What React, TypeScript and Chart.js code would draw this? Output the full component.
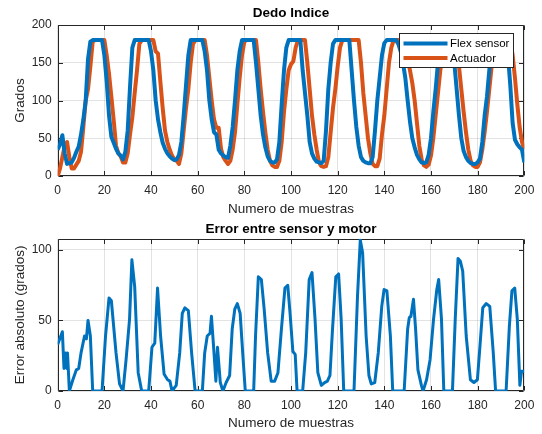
import React, { useEffect, useRef } from "react";
import { Chart, registerables } from "chart.js";

Chart.register(...registerables);

// ---------------- data ----------------
const sampleTicks = [0, 20, 40, 60, 80, 100, 120, 140, 160, 180, 200];
const topYTicks = [0, 50, 100, 150, 200];
const bottomYTicks = [0, 50, 100];
const seriesNames = ["Flex sensor", "Actuador"];

const flexX = [0, 1, 2, 3, 4, 5, 6, 7, 8, 9, 10, 11, 12, 13, 14, 15, 19, 20, 21, 22, 23, 24, 25, 26, 27, 28, 29, 30, 31, 32, 33, 39, 40, 41, 42, 43, 44, 45, 46, 47, 48, 49, 50, 51, 52, 53, 54, 55, 56, 57, 62, 63, 64, 65, 66, 67, 68, 69, 70, 71, 72, 73, 74, 75, 76, 77, 78, 79, 84, 85, 86, 87, 88, 89, 90, 91, 92, 93, 94, 95, 96, 97, 98, 99, 104, 105, 106, 107, 108, 109, 110, 111, 112, 113, 114, 115, 116, 117, 118, 119, 125, 126, 127, 128, 129, 130, 131, 132, 133, 134, 135, 136, 137, 138, 139, 140, 141, 145, 146, 147, 148, 149, 150, 151, 152, 153, 154, 155, 156, 157, 158, 159, 160, 161, 162, 163, 164, 165, 169, 170, 171, 172, 173, 174, 175, 176, 177, 178, 179, 180, 181, 182, 183, 184, 185, 186, 187, 192, 193, 194, 195, 196, 197, 198, 199, 200];
const flexY = [35, 42, 54, 30, 16, 17, 18, 24, 32, 39, 55, 75, 100, 155, 178, 180, 180, 160, 125, 80, 52, 44, 36, 30, 27, 22, 32, 60, 118, 170, 180, 180, 165, 140, 100, 75, 58, 44, 36, 30, 26, 23, 21, 22, 28, 45, 80, 120, 160, 180, 180, 165, 140, 100, 75, 58, 55, 35, 30, 27, 25, 24, 40, 65, 100, 140, 165, 180, 180, 150, 115, 80, 55, 38, 26, 20, 18, 18, 22, 45, 95, 140, 170, 180, 180, 140, 110, 80, 45, 30, 23, 19, 18, 17, 20, 60, 115, 150, 175, 180, 180, 140, 100, 65, 40, 25, 20, 18, 17, 17, 25, 60, 100, 130, 160, 176, 180, 180, 175, 165, 150, 130, 100, 72, 50, 38, 28, 22, 18, 17, 18, 28, 50, 85, 115, 150, 175, 180, 180, 150, 115, 80, 50, 33, 25, 20, 17, 16, 16, 18, 23, 45, 80, 105, 140, 170, 180, 180, 160, 120, 70, 48, 42, 38, 35, 18];

const actX = [0, 1, 2, 3, 4, 5, 6, 7, 8, 9, 10, 11, 12, 13, 14, 15, 16, 20, 21, 22, 23, 24, 25, 26, 27, 28, 29, 30, 31, 32, 33, 34, 35, 36, 41, 42, 43, 44, 45, 46, 47, 48, 49, 50, 51, 52, 53, 54, 55, 56, 57, 58, 59, 63, 64, 65, 66, 67, 68, 69, 70, 71, 72, 73, 74, 75, 76, 77, 78, 79, 80, 81, 85, 86, 87, 88, 89, 90, 91, 92, 93, 94, 95, 96, 97, 98, 99, 100, 101, 102, 103, 106, 107, 108, 109, 110, 111, 112, 113, 114, 115, 116, 117, 118, 119, 120, 121, 122, 129, 130, 131, 132, 133, 134, 135, 136, 137, 138, 139, 140, 141, 142, 143, 144, 148, 149, 150, 151, 152, 153, 154, 155, 156, 157, 158, 159, 160, 161, 162, 163, 164, 165, 166, 170, 171, 172, 173, 174, 175, 176, 177, 178, 179, 180, 181, 182, 183, 184, 185, 186, 187, 188, 194, 195, 196, 197, 198, 199, 200];
const actY = [0, 10, 25, 40, 45, 25, 10, 10, 15, 20, 32, 65, 100, 115, 145, 178, 180, 180, 160, 135, 105, 74, 40, 30, 26, 18, 18, 30, 55, 78, 110, 140, 175, 180, 180, 165, 162, 125, 90, 60, 45, 35, 27, 22, 20, 16, 30, 60, 90, 115, 150, 175, 180, 180, 160, 130, 100, 75, 64, 64, 36, 25, 20, 16, 20, 35, 58, 95, 130, 160, 178, 180, 180, 150, 115, 85, 58, 35, 20, 14, 12, 12, 20, 45, 85, 115, 140, 148, 152, 170, 180, 180, 150, 115, 80, 55, 35, 18, 13, 12, 13, 25, 58, 90, 115, 145, 170, 180, 180, 150, 110, 80, 50, 30, 16, 13, 13, 23, 55, 80, 115, 150, 170, 180, 180, 170, 155, 140, 123, 100, 70, 40, 22, 14, 12, 15, 27, 50, 80, 110, 140, 165, 180, 180, 165, 145, 115, 85, 58, 35, 20, 14, 12, 12, 18, 35, 58, 85, 115, 145, 170, 180, 180, 160, 130, 95, 65, 45, 35];

const errX = [0, 2, 2.7, 3.4, 3.9, 4.2, 5, 6.5, 8, 9, 10, 11.5, 12.3, 13, 14, 15, 19, 20.5, 22, 23, 25, 26.5, 28, 29.3, 30.8, 31.8, 33, 34.5, 36, 39, 40.4, 41.6, 42.8, 44.1, 45.6, 47.1, 48.1, 49, 50.8, 52.3, 53.4, 54.5, 56, 57.4, 58.9, 62, 63, 64.1, 65.3, 65.9, 67, 67.8, 68.5, 69.7, 70.8, 72.2, 73.7, 74.8, 75.9, 77, 78.2, 79.3, 80.4, 84, 84.8, 86, 87.3, 88.5, 90, 91.5, 93, 94.4, 95.9, 97.4, 98.6, 99.6, 100.8, 101.8, 102.6, 105, 106.3, 107.8, 109, 110.3, 111.5, 113, 114.4, 115.6, 116.7, 117.8, 119.2, 120.4, 121.5, 122.6, 127, 128.5, 129.7, 130.7, 132.2, 133.4, 134.4, 135.9, 137.4, 138.9, 139.9, 141.1, 142.6, 143.6, 148.5, 150, 150.7, 151.4, 152.5, 153.4, 154.4, 155.9, 156.6, 158.1, 159.6, 161.1, 162.5, 163.3, 164.5, 165.5, 169.2, 170.4, 171.6, 172.6, 173.6, 175.1, 176.9, 178.4, 179.9, 181, 182.2, 183.7, 185.2, 186.7, 187.7, 192.2, 193.6, 194.7, 195.9, 197, 198.1, 198.8, 200];
const errY = [33, 42, 16, 27, 16, 27, 0, 8, 15, 16, 27, 39, 37, 50, 39, 0, 0, 39, 66, 64, 27, 5, 0, 22, 51, 93, 74, 13, 0, 0, 31, 34, 73, 39, 12, 8, 7, 0, 4, 27, 55, 59, 57, 27, 0, 0, 27, 39, 41, 53, 27, 7, 31, 6, 0, 6, 11, 44, 58, 62, 55, 27, 0, 0, 39, 81, 79, 58, 27, 7, 7, 13, 44, 73, 75, 55, 28, 26, 0, 0, 27, 79, 84, 51, 13, 4, 6, 7, 11, 44, 81, 83, 51, 0, 0, 67, 107, 98, 39, 11, 5, 6, 27, 60, 72, 71, 39, 0, 0, 44, 52, 53, 65, 44, 15, 4, 0, 8, 22, 51, 72, 79, 51, 0, 0, 51, 94, 92, 85, 39, 8, 6, 8, 32, 59, 62, 60, 27, 0, 0, 46, 71, 73, 51, 4, 14, 14];

// ---------------- styles ----------------
const FONT = "'Liberation Sans', Arial, Helvetica, sans-serif";
const BLUE = "#0072BD";
const ORANGE = "#D95319";
const AXIS = "#262626";
const GRID = "rgba(38,38,38,0.13)";

const pts = (xs: number[], ys: number[]) => xs.map((x, i) => ({ x, y: ys[i] }));

function boxPlugin(xTicks: number[], yTicks: number[], title: string, titleY: number) {
  return {
    id: "matlabBox",
    beforeDatasetsDraw(chart: any) {
      const { ctx, chartArea: a, scales } = chart;
      const l = Math.round(a.left) + 0.5;
      const r = Math.round(a.right) - 0.5;
      const t = Math.round(a.top) + 0.5;
      const b = Math.round(a.bottom) - 0.5;
      ctx.save();
      ctx.strokeStyle = AXIS;
      ctx.lineWidth = 1;
      ctx.beginPath();
      ctx.rect(l, t, r - l, b - t);
      const tl = 4.5;
      for (const v of xTicks) {
        const px = Math.round(scales.x.getPixelForValue(v)) + 0.5;
        ctx.moveTo(px, b);
        ctx.lineTo(px, b - tl);
        ctx.moveTo(px, t);
        ctx.lineTo(px, t + tl);
      }
      for (const v of yTicks) {
        const py = Math.round(scales.y.getPixelForValue(v)) + 0.5;
        ctx.moveTo(l, py);
        ctx.lineTo(l + tl, py);
        ctx.moveTo(r, py);
        ctx.lineTo(r - tl, py);
      }
      ctx.stroke();
      // title centred over the plot area
      ctx.fillStyle = "#000";
      ctx.font = `bold 13.5px ${FONT}`;
      ctx.textAlign = "center";
      ctx.textBaseline = "middle";
      ctx.fillText(title, (a.left + a.right) / 2, titleY);
      ctx.restore();
    },
  };
}

const legendPlugin = {
  id: "matlabLegend",
  afterDatasetsDraw(chart: any) {
    const { ctx, chartArea: a } = chart;
    const w = 114;
    const h = 34;
    const x = Math.round(a.right - 11) - w + 0.5;
    const y = Math.round(a.top + 8) + 0.5;
    ctx.save();
    ctx.fillStyle = "#ffffff";
    ctx.fillRect(x, y, w, h);
    ctx.strokeStyle = AXIS;
    ctx.lineWidth = 1;
    ctx.strokeRect(x, y, w, h);
    const colors = [BLUE, ORANGE];
    seriesNames.forEach((name, i) => {
      const cy = y + 10 + i * 14.5;
      ctx.strokeStyle = colors[i];
      ctx.lineWidth = 4;
      ctx.beginPath();
      ctx.moveTo(x + 4, cy);
      ctx.lineTo(x + 48, cy);
      ctx.stroke();
      ctx.fillStyle = "#000";
      ctx.font = `11.5px ${FONT}`;
      ctx.textBaseline = "middle";
      ctx.textAlign = "left";
      ctx.fillText(name, x + 50.5, cy + 0.5);
    });
    ctx.restore();
  },
};

function baseOptions(opts: {
  topPad: number;
  yMax: number;
  yTicks: number[];
  yTitle: string;
  xAxisHeight: number;
  xTitlePadBottom: number;
}) {
  return {
    responsive: false,
    animation: false as const,
    layout: { padding: { left: 0, right: 17.7, top: opts.topPad, bottom: 0 } },
    plugins: {
      legend: { display: false },
      tooltip: { enabled: false },
      title: { display: false },
    },
    elements: { point: { radius: 0 }, line: { tension: 0, borderJoinStyle: "round" as const } },
    scales: {
      x: {
        type: "linear" as const,
        min: 0,
        max: 200,
        afterBuildTicks: (s: any) => {
          s.ticks = sampleTicks.map((v) => ({ value: v }));
        },
        afterFit: (s: any) => {
          s.height = opts.xAxisHeight;
        },
        grid: { color: GRID, drawTicks: false },
        border: { display: false },
        ticks: { color: AXIS, font: { family: FONT, size: 12 }, padding: 7, maxRotation: 0, autoSkip: false },
        title: {
          display: true,
          text: "Numero de muestras",
          color: AXIS,
          font: { family: FONT, size: 13.5 },
          padding: { top: 0, bottom: opts.xTitlePadBottom },
        },
      },
      y: {
        type: "linear" as const,
        min: 0,
        max: opts.yMax,
        afterBuildTicks: (s: any) => {
          s.ticks = opts.yTicks.map((v) => ({ value: v }));
        },
        afterFit: (s: any) => {
          s.width = 57.7;
        },
        grid: { color: GRID, drawTicks: false },
        border: { display: false },
        ticks: { color: AXIS, font: { family: FONT, size: 12 }, padding: 6 },
        title: {
          display: true,
          text: opts.yTitle,
          color: AXIS,
          font: { family: FONT, size: 13.5 },
          padding: { top: 11.9, bottom: 0 },
        },
      },
    },
  };
}

export default function App() {
  const topRef = useRef<HTMLCanvasElement | null>(null);
  const botRef = useRef<HTMLCanvasElement | null>(null);

  useEffect(() => {
    const top = new Chart(topRef.current as HTMLCanvasElement, {
      type: "line",
      data: {
        datasets: [
          {
            label: seriesNames[0],
            data: pts(flexX, flexY),
            borderColor: BLUE,
            backgroundColor: BLUE,
            borderWidth: 4,
          },
          {
            label: seriesNames[1],
            data: pts(actX, actY),
            borderColor: ORANGE,
            backgroundColor: ORANGE,
            borderWidth: 4,
          },
        ],
      },
      options: baseOptions({
        topPad: 25,
        yMax: 200,
        yTicks: topYTicks,
        yTitle: "Grados",
        xAxisHeight: 41,
        xTitlePadBottom: 0,
      }) as any,
      plugins: [boxPlugin(sampleTicks, topYTicks, "Dedo Indice", 13), legendPlugin],
    });

    const bot = new Chart(botRef.current as HTMLCanvasElement, {
      type: "line",
      data: {
        datasets: [
          {
            label: "Error",
            data: pts(errX, errY),
            borderColor: BLUE,
            backgroundColor: BLUE,
            borderWidth: 3,
          },
        ],
      },
      options: baseOptions({
        topPad: 21.7,
        yMax: 108,
        yTicks: bottomYTicks,
        yTitle: "Error absoluto (grados)",
        xAxisHeight: 43,
        xTitlePadBottom: 2.9,
      }) as any,
      plugins: [boxPlugin(sampleTicks, bottomYTicks, "Error entre sensor y motor", 12.2)],
    });

    return () => {
      top.destroy();
      bot.destroy();
    };
  }, []);

  return (
    <div
      style={{
        position: "fixed",
        left: 0,
        top: 0,
        width: 542,
        height: 434,
        background: "#ffffff",
        overflow: "hidden",
      }}
    >
      <canvas
        ref={topRef}
        width={542}
        height={217}
        style={{ position: "absolute", left: 0, top: 0, width: 542, height: 217 }}
      />
      <canvas
        ref={botRef}
        width={542}
        height={217}
        style={{ position: "absolute", left: 0, top: 217, width: 542, height: 217 }}
      />
    </div>
  );
}
